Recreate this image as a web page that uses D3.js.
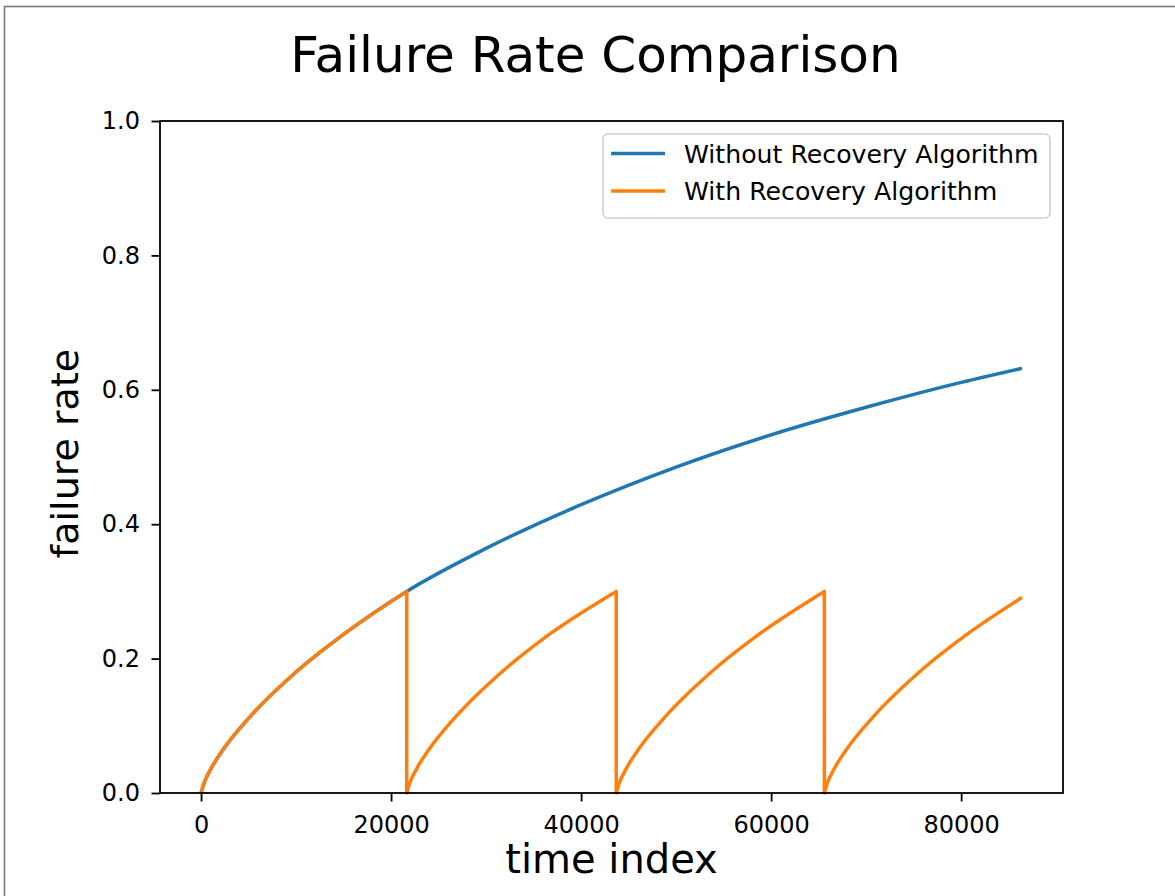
<!DOCTYPE html>
<html>
<head>
<meta charset="utf-8">
<script src="https://cdn.jsdelivr.net/npm/d3@7"></script>
<style>
  html, body { margin: 0; padding: 0; background: #fff; }
  text { font-family: "DejaVu Sans", sans-serif; fill: #000; }
</style>
</head>
<body>
<div id="canvas"></div>
<script>
// values
const xTicks = [0, 20000, 40000, 60000, 80000];
const yTicks = [0, 0.2, 0.4, 0.6, 0.8, 1.0];

// without recovery: one long curve
const timeWithout = [0, 250, 1000, 2500, 5000, 10000, 15000, 21650, 30000, 40000, 50000, 60000, 70000, 80000, 86400];
const rateWithout = [0, 0.012, 0.035, 0.068, 0.111, 0.180, 0.236, 0.300, 0.364, 0.429, 0.485, 0.533, 0.574, 0.611, 0.632];

// with recovery: resets to 0 each time it reaches 0.3
const cycle1Time = [0, 250, 1000, 2500, 5000, 10000, 15000, 21650];
const cycle1Rate = [0, 0.012, 0.035, 0.068, 0.111, 0.180, 0.236, 0.300];
const cycle2Time = [21650, 21900, 22650, 24150, 26650, 31650, 36650, 43700];
const cycle2Rate = [0, 0.012, 0.035, 0.068, 0.111, 0.180, 0.236, 0.300];
const cycle3Time = [43700, 43950, 44700, 46200, 48700, 53700, 58700, 65600];
const cycle3Rate = [0, 0.012, 0.035, 0.068, 0.111, 0.180, 0.236, 0.300];
const cycle4Time = [65600, 65850, 66600, 68100, 70600, 75600, 80600, 86400];
const cycle4Rate = [0, 0.012, 0.035, 0.068, 0.111, 0.180, 0.236, 0.291];

const seriesNames = ["Without Recovery Algorithm", "With Recovery Algorithm"];
const colors = ["#1f77b4", "#ff7f0e"];

const width = 1175;
const height = 896;
const margin = { top: 121, left: 160, bottom: 103, right: 112 };
const iwidth = width - margin.left - margin.right;
const iheight = height - margin.top - margin.bottom;

const svg = d3.select("#canvas").append("svg")
  .attr("width", width)
  .attr("height", height);

// thin grey frame around the figure
svg.append("rect")
  .attr("x", 4.5).attr("y", 6.5)
  .attr("width", 1300).attr("height", 1000)
  .attr("fill", "none")
  .attr("stroke", "#7a7a7a")
  .attr("stroke-width", 1.6);

const x = d3.scaleLinear()
  .domain([-4320, 90720])
  .range([0, iwidth]);

const y = d3.scaleLinear()
  .domain([0, 1])
  .range([iheight, 0]);

const g = svg.append("g").attr("transform", `translate(${margin.left},${margin.top})`);

const line = d3.line()
  .x(d => x(d[0]))
  .y(d => y(d[1]))
  .curve(d3.curveMonotoneX);

const zip = (a, b) => a.map((v, i) => [v, b[i]]);

// blue
g.append("path")
  .attr("d", line(zip(timeWithout, rateWithout)))
  .attr("fill", "none")
  .attr("stroke", colors[0])
  .attr("stroke-width", 3.5)
  .attr("stroke-linejoin", "round");

// orange, cycles joined by vertical drops
const cycles = [
  zip(cycle1Time, cycle1Rate),
  zip(cycle2Time, cycle2Rate),
  zip(cycle3Time, cycle3Rate),
  zip(cycle4Time, cycle4Rate)
];
const orangeD = cycles.map((c, i) => {
  const d = line(c);
  return i === 0 ? d : "L" + d.slice(1);
}).join("");

g.append("path")
  .attr("d", orangeD)
  .attr("fill", "none")
  .attr("stroke", colors[1])
  .attr("stroke-width", 3.5)
  .attr("stroke-linejoin", "round");

// axes
const xAxis = g.append("g")
  .attr("transform", `translate(0,${iheight})`)
  .call(d3.axisBottom(x).tickValues(xTicks).tickFormat(d3.format("d")).tickSize(8.5).tickPadding(14));

const yAxis = g.append("g")
  .call(d3.axisLeft(y).tickValues(yTicks).tickFormat(d3.format(".1f")).tickSize(8.5).tickPadding(11.5));

[xAxis, yAxis].forEach(a => {
  a.select(".domain").remove();
  a.selectAll(".tick line").attr("stroke", "#000").attr("stroke-width", 1.8);
  a.selectAll(".tick text")
    .attr("font-family", "DejaVu Sans")
    .attr("font-size", 24)
    .attr("fill", "#222");
});

// frame
g.append("rect")
  .attr("width", iwidth)
  .attr("height", iheight)
  .attr("fill", "none")
  .attr("stroke", "#000")
  .attr("stroke-width", 1.8);

// title and labels
svg.append("text")
  .attr("x", 595.5)
  .attr("y", 72)
  .attr("text-anchor", "middle")
  .attr("font-size", 50)
  .text("Failure Rate Comparison");

svg.append("text")
  .attr("x", margin.left + iwidth / 2)
  .attr("y", 873)
  .attr("text-anchor", "middle")
  .attr("font-size", 40)
  .text("time index");

svg.append("text")
  .attr("transform", `translate(78,${453.5}) rotate(-90)`)
  .attr("text-anchor", "middle")
  .attr("font-size", 38)
  .text("failure rate");

// legend
const legend = svg.append("g");
legend.append("rect")
  .attr("x", 603).attr("y", 134)
  .attr("width", 447).attr("height", 84)
  .attr("rx", 5)
  .attr("fill", "#fff")
  .attr("stroke", "#d0d0d0")
  .attr("stroke-width", 1.6);

const legendY = [153.5, 191];
seriesNames.forEach((name, i) => {
  legend.append("line")
    .attr("x1", 611).attr("x2", 665)
    .attr("y1", legendY[i]).attr("y2", legendY[i])
    .attr("stroke", colors[i])
    .attr("stroke-width", 3.5);
  legend.append("text")
    .attr("x", 684)
    .attr("y", legendY[i])
    .attr("dy", "0.36em")
    .attr("font-size", 25.2)
    .attr("fill", "#222")
    .text(name);
});
</script>
</body>
</html>
